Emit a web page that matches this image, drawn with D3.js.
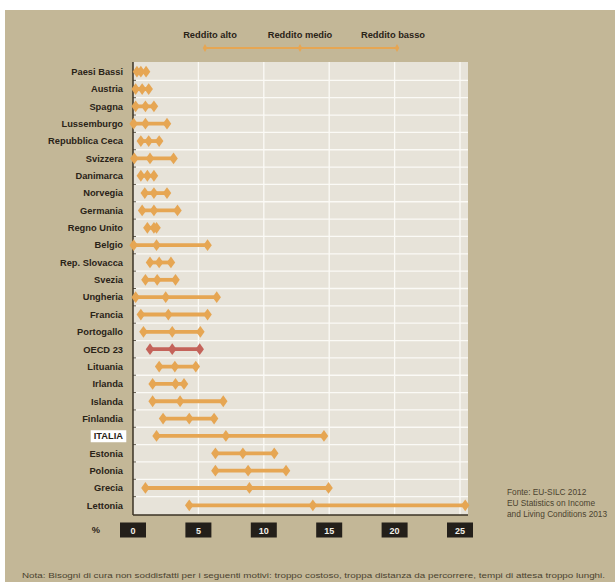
<html>
<head>
    <title>Bisogni di cura non soddisfatti</title>
    <script src="https://d3js.org/d3.v7.min.js" charset="utf-8"></script>
    <style>
        body { margin: 0; background: #fff; }
        text { font-family: "Liberation Sans", Arial, sans-serif; }
    </style>
</head>
<body>
<script>

    const width = 615;
    const height = 582;

    // dati (% della popolazione)
    const countries = ["Paesi Bassi", "Austria", "Spagna", "Lussemburgo", "Repubblica Ceca", "Svizzera",
        "Danimarca", "Norvegia", "Germania", "Regno Unito", "Belgio", "Rep. Slovacca", "Svezia",
        "Ungheria", "Francia", "Portogallo", "OECD 23", "Lituania", "Irlanda", "Islanda",
        "Finlandia", "ITALIA", "Estonia", "Polonia", "Grecia", "Lettonia"];
    const redditoAlto  = [0.3, 0.2, 0.2, 0.05, 0.6, 0.1, 0.6, 0.9, 0.7, 1.1, 0.05, 1.3, 0.95, 0.2, 0.6, 0.8, 1.3, 2.0, 1.5, 1.5, 2.3, 1.8, 6.3, 6.3, 0.95, 4.3];
    const redditoMedio = [0.6, 0.7, 0.95, 0.95, 1.2, 1.3, 1.1, 1.6, 1.6, 1.6, 1.8, 2.0, 1.85, 2.5, 2.7, 3.0, 3.0, 3.2, 3.25, 3.6, 4.3, 7.1, 8.4, 8.8, 8.9, 13.75];
    const redditoBasso = [1.0, 1.2, 1.6, 2.6, 2.0, 3.1, 1.6, 2.6, 3.4, 1.8, 5.7, 2.9, 3.25, 6.4, 5.7, 5.15, 5.1, 4.8, 3.9, 6.9, 6.2, 14.6, 10.8, 11.7, 14.95, 25.4];
    const xTicks = [0, 5, 10, 15, 20, 25];
    const legendLabels = ["Reddito alto", "Reddito medio", "Reddito basso"];

    const rows = countries.map((c, i) => ({
        name: c, alto: redditoAlto[i], medio: redditoMedio[i], basso: redditoBasso[i]
    }));

    const plot = { left: 133, right: 468, top: 62, bottom: 515 };

    const x = d3.scaleLinear().domain([0, 25]).range([plot.left, 460]);
    const y = d3.scaleBand().domain(countries).range([plot.top + 1, plot.bottom - 1]);

    const svg = d3.select("body").append("svg")
        .attr("width", width)
        .attr("height", height);

    // sfondo
    svg.append("rect").attr("x", 5).attr("y", 10).attr("width", width - 5).attr("height", height - 10)
        .attr("fill", "#c3b797");

    svg.append("rect")
        .attr("x", plot.left).attr("y", plot.top)
        .attr("width", plot.right - plot.left).attr("height", plot.bottom - plot.top)
        .attr("fill", "#e7e3d9");

    // griglia
    svg.append("g").selectAll("line")
        .data(xTicks.slice(1))
        .enter().append("line")
        .attr("x1", d => x(d)).attr("x2", d => x(d))
        .attr("y1", plot.top).attr("y2", plot.bottom)
        .attr("stroke", "#fbfaf6").attr("stroke-width", 1.3);

    svg.append("g").selectAll("line")
        .data(countries.slice(1))
        .enter().append("line")
        .attr("x1", plot.left).attr("x2", plot.right)
        .attr("y1", d => y(d)).attr("y2", d => y(d))
        .attr("stroke", "#fbfaf6").attr("stroke-width", 1.3);

    // assi
    svg.append("line").attr("x1", plot.left).attr("x2", plot.left)
        .attr("y1", plot.top).attr("y2", plot.bottom)
        .attr("stroke", "#3b3325").attr("stroke-width", 1.5);
    svg.append("line").attr("x1", plot.left).attr("x2", plot.right)
        .attr("y1", plot.bottom).attr("y2", plot.bottom)
        .attr("stroke", "#3b3325").attr("stroke-width", 1.5);

    svg.append("g").selectAll("line")
        .data(countries.slice(1))
        .enter().append("line")
        .attr("x1", plot.left).attr("x2", plot.left + 3)
        .attr("y1", d => y(d)).attr("y2", d => y(d))
        .attr("stroke", "#3b3325").attr("stroke-width", 0.8);

    // etichette paesi
    const labels = svg.append("g");
    labels.selectAll("text")
        .data(countries)
        .enter().append("text")
        .attr("x", 123)
        .attr("y", d => y(d) + y.bandwidth() / 2 + 3.3)
        .attr("text-anchor", "end")
        .attr("font-size", "9.3px")
        .attr("font-weight", "bold")
        .attr("fill", "#2a2317")
        .text(d => d);

    const itBox = labels.selectAll("text").filter(d => d === "ITALIA").node().getBBox();
    labels.insert("rect", "text")
        .attr("x", itBox.x - 3).attr("y", itBox.y - 1)
        .attr("width", itBox.width + 6).attr("height", itBox.height + 2)
        .attr("fill", "#fff");

    // diamanti
    const diamond = d3.symbol().type(d3.symbolDiamond).size(40);
    const colorOf = d => d.name === "OECD 23" ? "#c4635a" : "#e6a653";

    const g = svg.append("g").selectAll("g")
        .data(rows)
        .enter().append("g")
        .attr("transform", d => `translate(0,${y(d.name) + y.bandwidth() / 2})`);

    g.append("line")
        .attr("x1", d => x(d.alto)).attr("x2", d => x(d.basso))
        .attr("stroke", colorOf).attr("stroke-width", 3.8);

    ["alto", "medio", "basso"].forEach(k => {
        g.append("path")
            .attr("d", diamond)
            .attr("transform", d => `translate(${x(d[k])},0) scale(1.25,1)`)
            .attr("fill", colorOf);
    });

    // asse x
    const xa = svg.append("g").selectAll("g")
        .data(xTicks)
        .enter().append("g")
        .attr("transform", d => `translate(${x(d)},530)`);
    xa.append("rect").attr("x", -13).attr("y", -7.5).attr("width", 26).attr("height", 15)
        .attr("fill", "#231f1a");
    xa.append("text").attr("y", 3.5).attr("text-anchor", "middle")
        .attr("font-size", "9px").attr("font-weight", "bold").attr("fill", "#f2efe8")
        .text(d => d);
    svg.append("text").attr("x", 96).attr("y", 533).attr("text-anchor", "middle")
        .attr("font-size", "9.3px").attr("font-weight", "bold").attr("fill", "#2a2317").text("%");

    // legenda
    const legX = [205, 300, 397];
    svg.append("line").attr("x1", legX[0]).attr("x2", legX[2]).attr("y1", 48).attr("y2", 48)
        .attr("stroke", "#e6a653").attr("stroke-width", 2);
    svg.append("g").selectAll("path").data(legX).enter().append("path")
        .attr("d", d3.symbol().type(d3.symbolDiamond).size(18))
        .attr("transform", d => `translate(${d},48)`)
        .attr("fill", "#e6a653");
    svg.append("g").selectAll("text").data(legendLabels).enter().append("text")
        .attr("x", (d, i) => [210, 300, 393][i]).attr("y", 38)
        .attr("text-anchor", "middle")
        .attr("font-size", "9.3px").attr("font-weight", "bold").attr("fill", "#2a2317")
        .text(d => d);

    // fonte
    const fonte = ["Fonte: EU-SILC 2012", "EU Statistics on Income", "and Living Conditions 2013"];
    svg.append("g").selectAll("text").data(fonte).enter().append("text")
        .attr("x", 507).attr("y", (d, i) => 495 + i * 11)
        .attr("font-size", "8.3px").attr("fill", "#4b432f")
        .text(d => d);

    svg.append("text").attr("x", 22).attr("y", 578)
        .attr("font-size", "7px").attr("fill", "#4b432f")
        .attr("textLength", 583).attr("lengthAdjust", "spacingAndGlyphs")
        .text("Nota: Bisogni di cura non soddisfatti per i seguenti motivi: troppo costoso, troppa distanza da percorrere, tempi di attesa troppo lunghi.");

</script>
</body>
</html>
